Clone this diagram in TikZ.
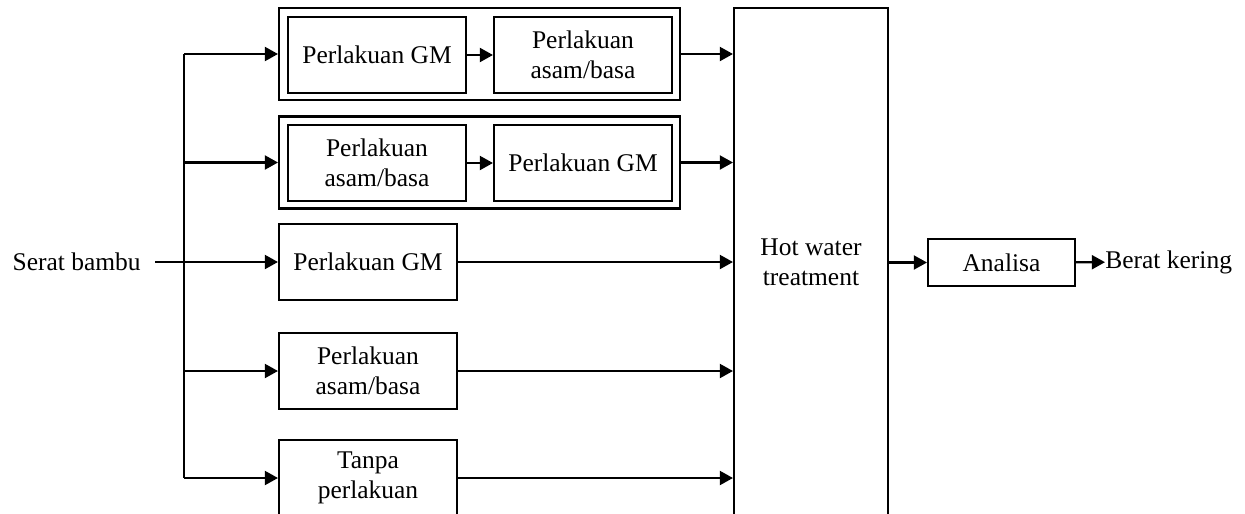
\documentclass[tikz,border=0pt]{standalone}
\usepackage{fontspec}
\setmainfont{Liberation Serif}
\usepackage{tikz}
\usetikzlibrary{arrows.meta,shapes,positioning}
\pgfdeclarelayer{background}
\pgfsetlayers{background,main}
\tikzstyle{box}=[draw,line width=1.2pt,align=center,inner sep=0pt,minimum width=3.56cm,minimum height=1.52cm,font=\fontsize{14.5}{17}\selectfont]
\tikzstyle{outer box} = [box, minimum width=8.02cm, minimum height=1.84cm]
\tikzstyle{term} = [inner sep=0pt, font=\fontsize{14.5}{17}\selectfont]
\tikzstyle{wire} = [draw,line width=1.2pt]
\tikzstyle{edge} = [wire,-{Triangle[length=7.5pt,width=8pt]}]

\begin{document}
\begin{tikzpicture}[x=0.02cm,y=-0.02cm]
    \useasboundingbox (0,0) rectangle (1245,514);
    % First we draw the treatment boxes
    \foreach \pos/\name/\txt in {{(377,55)/gmA/{Perlakuan GM}}, {(583,55)/abA/{Perlakuan\\asam/basa}}, {(377,163)/abB/{Perlakuan\\asam/basa}}, {(583,163)/gmB/{Perlakuan GM}}, {(368,262)/gmC/{Perlakuan GM}}, {(368,371)/abC/{Perlakuan\\asam/basa}}, {(368,478)/tanpa/{Tanpa\\perlakuan}}}
        \node[box] (\name) at \pos {\txt};
    \begin{pgfonlayer}{background}
        \node[outer box] (seqA) at (479.5,54) {};
        \node[outer box] (seqB) at (479.5,162.5) {};
    \end{pgfonlayer}
    \node[box, minimum width=3.08cm, minimum height=10.16cm] (hwt) at (811,262) {Hot water\\treatment};
    \node[box, minimum width=2.94cm, minimum height=0.94cm] (analisa) at (1001.5,262.5) {Analisa};
    \node[term, anchor=west] (berat) at (1105,262) {Berat kering};
    \node[term, anchor=east, inner xsep=0.28cm] (serat) at (155,262) {Serat bambu};

    % The branch points on the trunk
    \foreach \name/\y in {jA/54, jB/162.5, jD/371, jE/478}
        \coordinate (\name) at (184,\y);
    \path[wire] (jA) -- (jE);
    \path[edge] (serat) -- (gmC);
    \foreach \source/ \dest in {jA/seqA, jB/seqB, jD/abC, jE/tanpa}
        \path[edge] (\source) -- (\dest);

    % Connect the boxes with arrows
    \path[edge] (gmA) -- (abA);
    \path[edge] (abB) -- (gmB);
    \foreach \source in {seqA, seqB, gmC, abC, tanpa}
        \path[edge] (\source.east) -- (\source.east -| hwt.west);
    \path[edge] (hwt.east |- analisa) -- (analisa);
    \path[edge] (analisa) -- (berat);
\end{tikzpicture}
\end{document}
